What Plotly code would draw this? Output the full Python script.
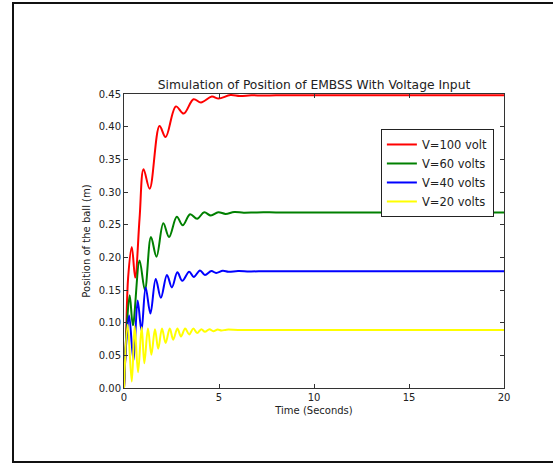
import plotly.graph_objects as go

# ---- data (extrema and settling points) ----
t_100 = [0, 0.1, 0.22, 0.41, 0.59, 0.82, 1.03, 1.35, 1.87, 2.19, 2.73, 3.14, 3.66, 4.05, 4.62, 4.98, 5.6, 6.1, 6.7, 7.3, 8.0, 9.0, 12.0, 16.0, 20]
v_100 = [0, 0.07, 0.17, 0.216, 0.169, 0.26, 0.335, 0.305, 0.401, 0.384, 0.431, 0.420, 0.442, 0.437, 0.446, 0.443, 0.4483, 0.4468, 0.448, 0.4477, 0.448, 0.448, 0.448, 0.448, 0.448]

t_60 = [0, 0.14, 0.3, 0.47, 0.82, 1.1, 1.42, 1.71, 2.07, 2.37, 2.78, 3.09, 3.48, 3.85, 4.22, 4.57, 4.96, 5.35, 5.8, 6.3, 7.0, 8.0, 9.0, 12.0, 16.0, 20]
v_60 = [0, 0.09, 0.142, 0.096, 0.195, 0.150, 0.231, 0.201, 0.252, 0.231, 0.262, 0.249, 0.266, 0.259, 0.269, 0.264, 0.269, 0.2665, 0.2693, 0.2683, 0.2688, 0.2688, 0.2688, 0.2688, 0.2688, 0.2688]

t_40 = [0, 0.12, 0.27, 0.5, 0.72, 0.92, 1.14, 1.39, 1.67, 1.94, 2.26, 2.52, 2.81, 3.07, 3.43, 3.67, 4.0, 4.26, 4.6, 4.85, 5.2, 5.5, 6.0, 6.6, 7.5, 9.0, 12.0, 16.0, 20]
v_40 = [0, 0.07, 0.111, 0.042, 0.134, 0.088, 0.154, 0.114, 0.167, 0.138, 0.173, 0.154, 0.177, 0.164, 0.178, 0.170, 0.180, 0.173, 0.179, 0.176, 0.1793, 0.1778, 0.179, 0.1785, 0.1787, 0.1787, 0.1787, 0.1787, 0.1787]

t_20 = [0, 0.19, 0.41, 0.56, 0.74, 0.93, 1.07, 1.26, 1.44, 1.63, 1.80, 2.0, 2.19, 2.41, 2.59, 2.81, 3.0, 3.22, 3.43, 3.65, 3.85, 4.07, 4.26, 4.5, 4.7, 4.93, 5.13, 5.4, 6.0, 7.0, 8.5, 12.0, 16.0, 20]
v_20 = [0, 0.097, 0.010, 0.095, 0.024, 0.093, 0.038, 0.091, 0.051, 0.090, 0.060, 0.091, 0.069, 0.091, 0.074, 0.091, 0.079, 0.091, 0.082, 0.091, 0.084, 0.090, 0.086, 0.090, 0.087, 0.0895, 0.088, 0.0893, 0.0889, 0.0889, 0.0889, 0.0889, 0.0889, 0.0889]

series_names = ["V=100 volt", "V=60 volts", "V=40 volts", "V=20 volts"]
series_colors = ["#ff0000", "#008000", "#0000ff", "#ffff00"]
series_t = [t_100, t_60, t_40, t_20]
series_v = [v_100, v_60, v_40, v_20]

x_ticks = [0, 5, 10, 15, 20]
y_ticks = [0.00, 0.05, 0.10, 0.15, 0.20, 0.25, 0.30, 0.35, 0.40, 0.45]

FONT = "DejaVu Sans"

fig = go.Figure()
for name, col, tt, vv in zip(series_names, series_colors, series_t, series_v):
    fig.add_trace(go.Scatter(
        x=tt, y=vv, name=name, mode="lines",
        line=dict(color=col, width=2, shape="spline", smoothing=1.0),
    ))

axis_common = dict(
    showline=True, mirror="ticks", linecolor="#333333", linewidth=1,
    ticks="inside", ticklen=4, tickcolor="#333333", tickwidth=1,
    showgrid=False, zeroline=False,
    tickfont=dict(family=FONT, size=10, color="#222222"),
)

fig.update_layout(
    width=553, height=465,
    margin=dict(l=124, r=49, t=94, b=77, pad=0),
    paper_bgcolor="white", plot_bgcolor="white",
    font=dict(family=FONT, color="#222222"),
    title=dict(text="Simulation of Position of EMBSS With Voltage Input",
               font=dict(family=FONT, size=12.3, color="#222222"),
               x=0.5, xref="paper", xanchor="center",
               y=1.0, yref="paper", yanchor="bottom", pad=dict(b=5)),
    xaxis=dict(range=[0, 20], tickvals=x_ticks, ticktext=[str(v) for v in x_ticks],
               title=dict(text="Time (Seconds)", font=dict(family=FONT, size=10, color="#222222"), standoff=4),
               **axis_common),
    yaxis=dict(range=[0, 0.45], tickvals=y_ticks, ticktext=[f"{v:.2f}" for v in y_ticks],
               title=dict(text="Position of the ball (m)", font=dict(family=FONT, size=10, color="#222222"), standoff=6),
               **axis_common),
    legend=dict(x=0.676, y=0.881, xanchor="left", yanchor="top",
                bordercolor="#222222", borderwidth=1, bgcolor="white",
                font=dict(family=FONT, size=11.5, color="#222222"),
                itemwidth=30, tracegroupgap=0),
    showlegend=True,
)

# outer black frame of the original figure image
fig.add_shape(type="rect", xref="paper", yref="paper",
              x0=-0.2921, x1=1.25, y0=-0.2517, y1=1.3095,
              line=dict(color="#111111", width=2), fillcolor="rgba(0,0,0,0)", layer="above")

fig.write_html("out.html")
